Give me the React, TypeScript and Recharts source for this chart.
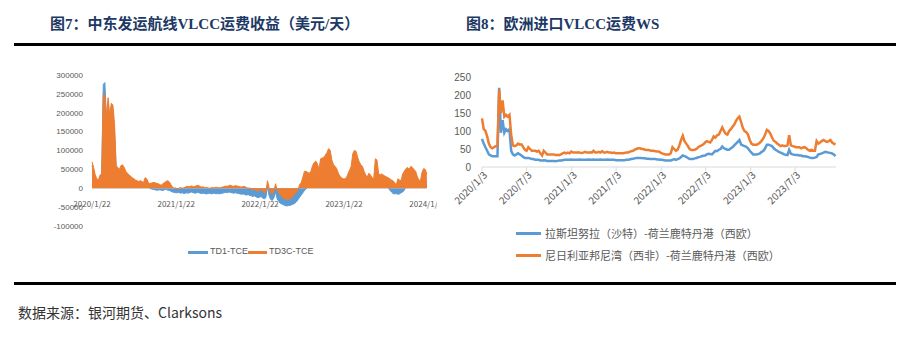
import React from 'react';
import { AreaChart, Area, LineChart, Line, XAxis, YAxis } from 'recharts';

// 图7：周度取值，单位千美元/天，起点 2020/1/22
const td1Tce = [
  60, 45, 30, 20, 18, 30, 32, 275, 280, 180,
  220, 180, 210, 200, 150, 50, 45, 42, 50, 52,
  45, 38, 32, 28, 25, 22, 18, 15, 12, 10,
  8, 6, 4, 10, 8, 3, 0, -2, -3, -4,
  -5, -5, -4, -5, -6, -4, -3, -5, -6, -8,
  -10, -11, -12, -12, -11, -13, -12, -14, -13, -12,
  -13, -11, -10, -12, -13, -12, -11, -13, -14, -13,
  -14, -15, -14, -13, -15, -14, -13, -15, -14, -15,
  -14, -13, -12, -11, -12, -10, -11, -12, -13, -12,
  -13, -14, -15, -16, -15, -17, -18, -17, -19, -20,
  -22, -20, -23, -25, -24, -22, -26, -28, -25, 5,
  -20, -30, -32, -25, -10, -28, -35, -40, -42, -44,
  -46, -47, -46, -45, -44, -42, -40, -36, -30, -24,
  -18, -12, -6, -2, 5, 10, 15, 20, 30, 35,
  40, 35, 45, 50, 55, 60, 65, 70, 65, 50,
  40, 35, 30, 25, 20, 15, 12, 10, 12, 20,
  30, 40, 60, 65, 60, 50, 40, 35, 28, 20,
  22, 18, 15, 12, 10, 8, 40, 38, 20, 15,
  12, 10, 8, 5, 2, -5, -10, -14, -15, -14,
  -16, -15, -12, -10, -5, 5, 15, 22, 25, 28,
  25, 20, 15, 10, 8, 20, 28, 25, 15,
];
const td3cTce = [
  70, 55, 35, 25, 22, 35, 38, 250, 245, 190,
  240, 195, 225, 220, 170, 60, 55, 50, 60, 62,
  55, 45, 40, 35, 32, 28, 25, 22, 20, 18,
  20, 18, 15, 28, 25, 15, 12, 14, 15, 15,
  13, 12, 10, 8, 12, 15, 18, 20, 17, 10,
  3, 0, 1, -2, 0, 2, 0, 1, 3, 5,
  4, 5, 6, 4, 5, 7, 8, 5, 3, 4,
  2, 2, 1, 0, 1, 2, 1, 3, 2, 1,
  2, 3, 4, 6, 5, 7, 8, 6, 5, 7,
  6, 5, 4, 3, 5, 4, 2, 0, 1, -2,
  -5, -3, -6, -8, -5, -3, -8, -12, -10, 20,
  2, -12, -15, -8, 12, -5, -12, -18, -22, -26,
  -28, -30, -30, -28, -25, -20, -15, -10, -4, 10,
  15, 30, 45, 45, 42, 40, 45, 60, 68, 72,
  65, 50, 78, 80, 82, 88, 95, 105, 100, 75,
  62, 58, 52, 40, 32, 28, 25, 25, 28, 38,
  48, 58, 92, 100, 98, 82, 70, 62, 58, 45,
  35, 30, 40, 35, 28, 25, 78, 75, 40, 35,
  38, 35, 32, 30, 28, 25, 22, 20, 15, 8,
  25, 22, 20, 38, 45, 52, 55, 50, 58, 55,
  50, 45, 32, 22, 20, 42, 52, 50, 38,
];
const leftTickDays = [0, 366, 731, 1096, 1461];
const leftTickLabels = ['2020/1/22', '2021/1/22', '2022/1/22', '2023/1/22', '2024/1/22'];
const leftYTicks = [-100000, -50000, 0, 50000, 100000, 150000, 200000, 250000, 300000];

// 图8：周度WS点数，起点 2020/1/3
const rasTanura = [
  78, 65, 55, 45, 35, 32, 30, 30, 30, 30,
  220, 95, 130, 95, 105, 100, 105, 45, 35, 32,
  35, 38, 35, 32, 28, 25, 25, 25, 24, 22,
  22, 20, 20, 20, 18, 18, 19, 18, 17, 17,
  17, 17, 17, 16, 17, 18, 18, 19, 20, 20,
  20, 20, 21, 20, 20, 20, 20, 21, 20, 20,
  20, 20, 21, 20, 20, 21, 20, 20, 20, 21,
  20, 20, 20, 21, 20, 20, 20, 20, 19, 19,
  19, 19, 19, 19, 20, 20, 21, 22, 23, 24,
  25, 25, 25, 25, 24, 24, 23, 23, 22, 22,
  22, 22, 21, 21, 20, 20, 19, 18, 18, 18,
  18, 20, 22, 20, 22, 24, 28, 32, 30, 28,
  25, 22, 22, 22, 24, 25, 27, 28, 30, 31,
  32, 35, 37, 36, 35, 40, 45, 44, 48, 50,
  57, 52, 50, 48, 48, 52, 55, 60, 65, 70,
  75, 62, 60, 58, 56, 52, 45, 40, 35, 35,
  35, 36, 38, 42, 45, 52, 62, 62, 60, 58,
  52, 48, 45, 42, 40, 38, 35, 34, 33, 48,
  37, 35, 34, 33, 33, 32, 32, 30, 30, 29,
  28, 26, 25, 25, 26, 28, 35, 36, 38, 40,
  42, 41, 40, 39, 38, 35, 30,
];
const bonny = [
  135, 105, 100, 85, 65, 55, 52, 55, 58, 60,
  215, 150, 185, 140, 145, 140, 145, 90, 60, 58,
  60, 65, 62, 63, 55, 48, 45, 55, 50, 45,
  45, 45, 43, 45, 38, 32, 45, 40, 35, 35,
  35, 35, 35, 33, 34, 33, 35, 38, 40, 38,
  40, 38, 43, 40, 40, 40, 41, 40, 39, 40,
  42, 40, 40, 41, 40, 45, 40, 40, 42, 40,
  44, 40, 40, 42, 40, 40, 39, 40, 38, 38,
  38, 38, 38, 39, 40, 40, 42, 44, 45, 48,
  50, 52, 52, 50, 50, 48, 47, 47, 46, 45,
  45, 44, 43, 43, 40, 38, 36, 35, 35, 35,
  38, 55, 50, 45, 48, 60, 75, 87, 72, 65,
  58, 50, 47, 47, 48, 50, 55, 58, 60, 63,
  68, 72, 70, 68, 75, 85, 82, 88, 90, 100,
  110, 100, 92, 90, 100, 105, 112, 118, 128, 135,
  140, 125, 108, 100, 97, 90, 75, 65, 62, 62,
  62, 64, 68, 73, 80, 90, 103, 100, 93, 82,
  73, 70, 65, 62, 58, 60, 58, 58, 60, 88,
  60, 58, 57, 55, 55, 55, 52, 54, 55, 52,
  48, 45, 48, 45, 45, 72, 65, 68, 72, 75,
  72, 70, 72, 75, 68, 65, 62,
];
const rightTickDays = [0, 182, 366, 547, 731, 912, 1096, 1277];
const rightTickLabels = ['2020/1/3', '2020/7/3', '2021/1/3', '2021/7/3', '2022/1/3', '2022/7/3', '2023/1/3', '2023/7/3'];
const rightYTicks = [0, 50, 100, 150, 200, 250];

const BLUE = '#5B9BD5';
const ORANGE = '#ED7D31';
const AXIS_TEXT = '#595959';

const leftData = td1Tce.map((v, i) => ({ day: i * 7, td1: v * 1000, td3c: td3cTce[i] * 1000 }));
const rightData = rasTanura.map((v, i) => ({ day: i * 7, ras: v, bonny: bonny[i] }));

const LeftTick = ({ x, y, payload }: any) => (
  <text x={x} y={y - 19} textAnchor="middle" fontSize={8} fill={AXIS_TEXT}>
    {leftTickLabels[leftTickDays.indexOf(payload.value)]}
  </text>
);

const RightTick = ({ x, y, payload }: any) => (
  <g transform={`translate(${x + 3},${y})`}>
    <text textAnchor="end" transform="rotate(-45)" dy={4} fontSize={10} fill={AXIS_TEXT}>
      {rightTickLabels[rightTickDays.indexOf(payload.value)]}
    </text>
  </g>
);

const titleStyle: React.CSSProperties = {
  position: 'absolute',
  top: 12,
  fontFamily: '"Liberation Serif", "Noto Sans CJK SC", serif',
  fontWeight: 700,
  fontSize: 15,
  color: '#203864',
  whiteSpace: 'nowrap',
};

const swatch = (left: number, top: number, width: number, color: string): React.CSSProperties => ({
  position: 'absolute',
  left,
  top,
  width,
  height: 3,
  background: color,
});

export default function App() {
  return (
    <div
      style={{
        position: 'absolute',
        left: 0,
        top: 0,
        width: 906,
        height: 346,
        background: '#fff',
        fontFamily: '"Noto Sans CJK SC", sans-serif',
        overflow: 'hidden',
      }}
    >
      <div style={{ ...titleStyle, left: 50 }}>图7：中东发运航线VLCC运费收益（美元/天）</div>
      <div style={{ ...titleStyle, left: 466 }}>图8：欧洲进口VLCC运费WS</div>
      <div style={{ position: 'absolute', left: 14, top: 43, width: 882, height: 3, background: '#000' }} />

      <div style={{ position: 'absolute', left: 0, top: 50 }}>
        <AreaChart width={437} height={190} data={leftData} margin={{ top: 25, right: 9, bottom: 0, left: 0 }}>
          <XAxis
            dataKey="day"
            type="number"
            domain={[0, 1461]}
            ticks={leftTickDays}
            tick={<LeftTick />}
            axisLine={false}
            tickLine={false}
            tickSize={0}
            tickMargin={0}
            height={14}
            interval={0}
          />
          <YAxis
            type="number"
            domain={[-100000, 300000]}
            ticks={leftYTicks}
            axisLine={false}
            tickLine={false}
            tickSize={0}
            tickMargin={9}
            width={92}
            interval={0}
            tick={{ fontSize: 8, fill: AXIS_TEXT, fontFamily: '"Liberation Sans", sans-serif' }}
          />
          <Area type="linear" dataKey="td1" stroke={BLUE} strokeWidth={1} fill={BLUE} fillOpacity={1} dot={false} activeDot={false} isAnimationActive={false} />
          <Area type="linear" dataKey="td3c" stroke={ORANGE} strokeWidth={1} fill={ORANGE} fillOpacity={1} dot={false} activeDot={false} isAnimationActive={false} />
        </AreaChart>
      </div>
      <div style={swatch(188, 251, 20, BLUE)} />
      <div style={{ position: 'absolute', left: 210, top: 246, fontSize: 9, color: AXIS_TEXT, fontFamily: '"Liberation Sans", sans-serif' }}>TD1-TCE</div>
      <div style={swatch(248, 251, 19, ORANGE)} />
      <div style={{ position: 'absolute', left: 269, top: 246, fontSize: 9, color: AXIS_TEXT, fontFamily: '"Liberation Sans", sans-serif' }}>TD3C-TCE</div>

      <div style={{ position: 'absolute', left: 453, top: 50 }}>
        <LineChart width={453} height={170} data={rightData} margin={{ top: 27, right: 70, bottom: 13, left: 0 }}>
          <XAxis
            dataKey="day"
            type="number"
            domain={[0, 1444]}
            ticks={rightTickDays}
            tick={<RightTick />}
            axisLine={{ stroke: '#d9d9d9' }}
            tickLine={{ stroke: '#d9d9d9' }}
            tickSize={4}
            tickMargin={2}
            height={40}
            interval={0}
          />
          <YAxis
            type="number"
            domain={[0, 250]}
            ticks={rightYTicks}
            axisLine={false}
            tickLine={false}
            tickSize={0}
            tickMargin={11}
            width={29}
            interval={0}
            tick={{ fontSize: 10, fill: AXIS_TEXT, fontFamily: '"Liberation Sans", sans-serif' }}
          />
          <Line type="linear" dataKey="ras" stroke={BLUE} strokeWidth={2.5} dot={false} activeDot={false} isAnimationActive={false} />
          <Line type="linear" dataKey="bonny" stroke={ORANGE} strokeWidth={2.5} dot={false} activeDot={false} isAnimationActive={false} />
        </LineChart>
      </div>
      <div style={swatch(516, 232, 25, BLUE)} />
      <div style={{ position: 'absolute', left: 545, top: 225, fontSize: 11, color: AXIS_TEXT, whiteSpace: 'nowrap' }}>拉斯坦努拉（沙特）-荷兰鹿特丹港（西欧）</div>
      <div style={swatch(516, 254, 25, ORANGE)} />
      <div style={{ position: 'absolute', left: 545, top: 247, fontSize: 11, color: AXIS_TEXT, whiteSpace: 'nowrap' }}>尼日利亚邦尼湾（西非）-荷兰鹿特丹港（西欧）</div>

      <div style={{ position: 'absolute', left: 14, top: 282, width: 882, height: 3, background: '#000' }} />
      <div style={{ position: 'absolute', left: 18, top: 302, fontSize: 14, color: '#333', whiteSpace: 'nowrap' }}>数据来源：银河期货、Clarksons</div>
    </div>
  );
}
